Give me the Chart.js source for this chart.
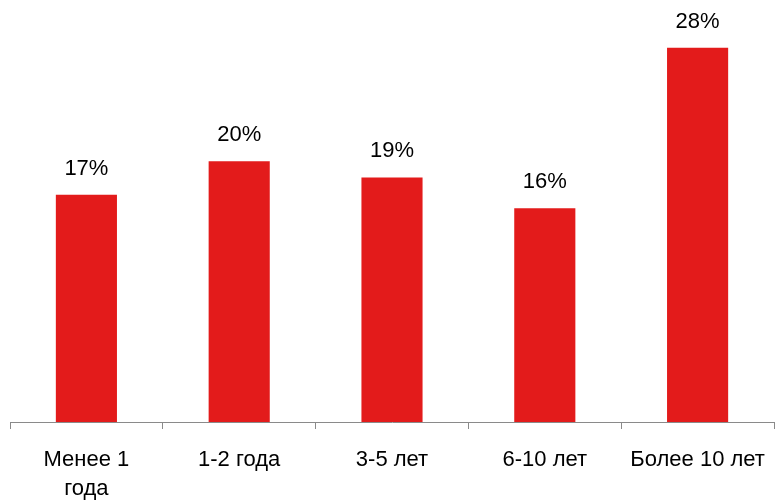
<!DOCTYPE html>
<html lang="ru">
<head>
  <meta charset="UTF-8">
  <title>Стаж</title>
  <script src="https://cdn.jsdelivr.net/npm/chart.js"></script>
  <style>
    html, body { margin: 0; padding: 0; background: #fff; }
    #wrap { width: 775px; height: 501px; }
  </style>
</head>
<body>
  <div id="wrap"><canvas id="chart"></canvas></div>
  <script>
    const categories = [['Менее 1', 'года'], '1-2 года', '3-5 лет', '6-10 лет', 'Более 10 лет'];
    const shares = [17, 19.5, 18.3, 16, 28];
    const shareLabels = ['17%', '20%', '19%', '16%', '28%'];

    const FONT = '"Liberation Sans", Arial, sans-serif';

    // подписи над столбцами
    const barLabels = {
      id: 'barLabels',
      afterDatasetsDraw(chart) {
        const ctx = chart.ctx;
        const meta = chart.getDatasetMeta(0);
        ctx.save();
        ctx.font = '22px ' + FONT;
        ctx.fillStyle = '#000';
        ctx.textAlign = 'center';
        ctx.textBaseline = 'middle';
        meta.data.forEach((bar, i) => {
          ctx.fillText(shareLabels[i], bar.x, bar.y - 26);
        });
        ctx.restore();
      }
    };

    new Chart(document.getElementById('chart'), {
      type: 'bar',
      data: {
        labels: categories,
        datasets: [{
          data: shares,
          backgroundColor: '#E31B1B',
          categoryPercentage: 0.4,
          barPercentage: 1.0
        }]
      },
      options: {
        responsive: true,
        maintainAspectRatio: false,
        animation: false,
        layout: { padding: { left: 10, right: 1, top: 21, bottom: 0 } },
        plugins: { legend: { display: false }, tooltip: { enabled: false } },
        scales: {
          x: {
            grid: {
              drawOnChartArea: false,
              drawTicks: true,
              tickLength: 7,
              color: '#8a8a8a'
            },
            border: { color: '#8a8a8a', width: 1 },
            ticks: {
              color: '#000',
              font: { family: FONT, size: 22, lineHeight: 1.32 },
              padding: 16,
              maxRotation: 0,
              autoSkip: false
            },
            afterFit(scale) {
              scale.height = 79;
              scale.paddingLeft = 0;
              scale.paddingRight = 0;
            }
          },
          y: {
            display: false,
            min: 0,
            max: 30
          }
        }
      },
      plugins: [barLabels]
    });
  </script>
</body>
</html>
